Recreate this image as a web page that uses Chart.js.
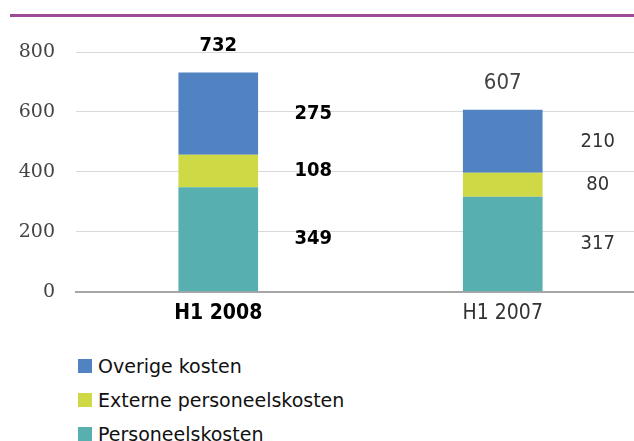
<!DOCTYPE html>
<html><head><meta charset="utf-8">
<script src="https://cdn.jsdelivr.net/npm/chart.js@4/dist/chart.umd.min.js"></script>
<style>
html,body{margin:0;padding:0;background:#fff;overflow:hidden;width:634px;height:441px;}
#top{position:absolute;left:10px;top:14px;width:640px;height:3px;background:#9B4A97;}
#wrap{position:absolute;left:0;top:0;width:646px;height:335px;}
#legend{position:absolute;left:78px;top:349px;font-family:"DejaVu Sans","DejaVu Sans Condensed",sans-serif;font-size:19px;color:#111;}
.li{height:34px;display:flex;align-items:center;}
.sw{width:14px;height:14px;margin-right:6px;}
</style></head>
<body>
<div id="top"></div>
<div id="wrap"><canvas id="c" width="646" height="335"></canvas></div>
<div id="legend"></div>
<script>
const categories = ["H1 2008", "H1 2007"];
const personeelskosten = [349, 317];
const externePersoneelskosten = [108, 80];
const overigeKosten = [275, 210];
const totals = [732, 607];
const yTicks = [0, 200, 400, 600, 800];

const seriesNames = ["Personeelskosten", "Externe personeelskosten", "Overige kosten"];
const colors = ["#58AFB0", "#CFD845", "#5182C2"];
const seriesData = [personeelskosten, externePersoneelskosten, overigeKosten];

const FONT = '"DejaVu Sans Condensed","DejaVu Sans",sans-serif';

const labelPlugin = {
  id: 'labels',
  afterDatasetsDraw(chart) {
    const ctx = chart.ctx;
    ctx.save();
    ctx.textAlign = 'center';
    ctx.textBaseline = 'middle';
    chart.data.datasets.forEach((ds, di) => {
      const meta = chart.getDatasetMeta(di);
      meta.data.forEach((el, i) => {
        const bold = i === 0;
        ctx.font = (bold ? 'bold 20px ' : '20px ') + FONT;
        ctx.fillStyle = bold ? '#000' : '#333';
        const y = (el.y + el.base) / 2;
        ctx.fillText(String(ds.data[i]), el.x + 95, y);
      });
    });
    const topMeta = chart.getDatasetMeta(chart.data.datasets.length - 1);
    topMeta.data.forEach((el, i) => {
      const bold = i === 0;
      ctx.font = (bold ? 'bold 20px ' : '22px ') + FONT;
      ctx.fillStyle = bold ? '#000' : '#444';
      ctx.fillText(String(totals[i]), el.x, el.y - 27);
    });
    ctx.restore();
  }
};

new Chart(document.getElementById('c'), {
  type: 'bar',
  data: {
    labels: categories,
    datasets: seriesData.map((d, i) => ({
      label: seriesNames[i],
      data: d,
      backgroundColor: colors[i],
      borderWidth: 0,
      categoryPercentage: 1,
      barPercentage: 0.28
    }))
  },
  options: {
    responsive: false,
    animation: false,
    layout: { padding: { top: 52, right: 1, left: 0, bottom: 0 } },
    plugins: { legend: { display: false }, tooltip: { enabled: false } },
    scales: {
      x: {
        stacked: true,
        grid: { display: false, drawTicks: false },
        border: { color: '#A6A6A6', width: 2 },
        ticks: {
          padding: 9,
          color: (c) => c.index === 0 ? '#000' : '#333',
          font: (c) => ({ family: FONT, size: 21, weight: c.index === 0 ? 'bold' : 'normal' })
        }
      },
      y: {
        stacked: true,
        min: 0, max: 800,
        afterBuildTicks: (s) => { s.ticks = yTicks.map(v => ({ value: v })); },
        afterFit: (s) => { s.width = 76; },
        grid: { color: '#D9D9D9', drawTicks: false, lineWidth: 1 },
        border: { display: false },
        ticks: {
          padding: 21,
          color: '#444',
          font: { family: '"DejaVu Serif",serif', size: 19 }
        }
      }
    }
  },
  plugins: [labelPlugin]
});

const legend = document.getElementById('legend');
for (let i = seriesNames.length - 1; i >= 0; i--) {
  const row = document.createElement('div');
  row.className = 'li';
  const sw = document.createElement('div');
  sw.className = 'sw';
  sw.style.background = colors[i];
  const t = document.createElement('span');
  t.textContent = seriesNames[i];
  row.appendChild(sw); row.appendChild(t);
  legend.appendChild(row);
}
</script>
</body></html>
